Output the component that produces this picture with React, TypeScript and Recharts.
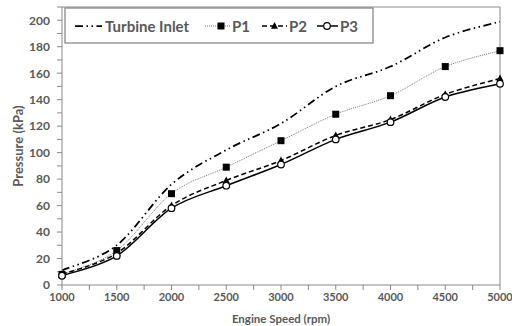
import React from 'react';
import { LineChart, Line, XAxis, YAxis, ReferenceLine, Label } from 'recharts';

const speeds = [1000, 1500, 2000, 2500, 3000, 3500, 4000, 4500, 5000];
const turbineInlet = [11, 30, 76, 102, 122, 150, 165, 187, 199];
const p1 = [8, 26, 69, 89, 109, 129, 143, 165, 177];
const p2 = [8, 24, 60, 79, 94, 113, 125, 144, 156];
const p3 = [7, 22, 58, 75, 91, 110, 123, 142, 152];

const xTicks = [1000, 1250, 1500, 1750, 2000, 2250, 2500, 2750, 3000, 3250, 3500, 3750, 4000, 4250, 4500, 4750, 5000];
const yTicks = [0, 10, 20, 30, 40, 50, 60, 70, 80, 90, 100, 110, 120, 130, 140, 150, 160, 170, 180, 190, 200, 210];

const data = speeds.map((s, i) => ({ speed: s, turbine: turbineInlet[i], p1: p1[i], p2: p2[i], p3: p3[i] }));

const FONT = 'Lato, "Open Sans", sans-serif';
const TXT = '#595959';
const AX = '#8a8a8a';

// Excel-like smoothing (Catmull-Rom style Bezier)
const smoothCurve: any = (context: any) => {
  let pts: number[][] = [];
  return {
    areaStart() {},
    areaEnd() {},
    lineStart() { pts = []; },
    point(x: number, y: number) { pts.push([+x, +y]); },
    lineEnd() {
      if (!pts.length) return;
      context.moveTo(pts[0][0], pts[0][1]);
      for (let i = 0; i < pts.length - 1; i++) {
        const p0 = pts[i - 1] || pts[i];
        const p1 = pts[i];
        const p2 = pts[i + 1];
        const p3 = pts[i + 2] || p2;
        const c1x = p1[0] + (p2[0] - p0[0]) / 6;
        const c1y = p1[1] + (p2[1] - p0[1]) / 6;
        const c2x = p2[0] - (p3[0] - p1[0]) / 6;
        const c2y = p2[1] - (p3[1] - p1[1]) / 6;
        context.bezierCurveTo(c1x, c1y, c2x, c2y, p2[0], p2[1]);
      }
    },
  };
};

const XTick = (props: any) => {
  const { x, y, payload } = props;
  if (payload.value % 500 !== 0) return <g />;
  return (
    <text x={x} y={y} dy="0.78em" textAnchor="middle" fontFamily={FONT} fontSize={11} fontWeight={700} fill={TXT}>
      {payload.value}
    </text>
  );
};

const YTick = (props: any) => {
  const { x, y, payload } = props;
  if (payload.value % 20 !== 0) return <g />;
  return (
    <text x={x} y={y} dy="0.36em" textAnchor="end" fontFamily={FONT} fontSize={12} fontWeight={700} fill={TXT}>
      {payload.value}
    </text>
  );
};

const SquareDot = (props: any) => {
  const { cx, cy, index } = props;
  return <rect key={`sq-${index}`} x={cx - 3.5} y={cy - 3.5} width={7} height={7} fill="#000" />;
};
const TriDot = (props: any) => {
  const { cx, cy, index } = props;
  return <polygon key={`tr-${index}`} points={`${cx},${cy - 4} ${cx + 3.6},${cy + 2.8} ${cx - 3.6},${cy + 2.8}`} fill="#000" />;
};
const CircDot = (props: any) => {
  const { cx, cy, index } = props;
  return <circle key={`ci-${index}`} cx={cx} cy={cy} r={3.3} fill="#fff" stroke="#000" strokeWidth={1.2} />;
};

const TURB_DASH = '8 3.5 1.5 3.5 1.5 3.5';

const LegendBox = () => (
  <svg width={310} height={37} style={{ position: 'absolute', left: 64, top: 7 }}>
    <rect x={1} y={1} width={308} height={35} fill="#fff" stroke="#7f7f7f" strokeWidth={1.2} />
    <line x1={11} y1={19} x2={38} y2={19} stroke="#000" strokeWidth={1.75} strokeDasharray={TURB_DASH} />
    <text x={41} y={25} fontFamily={FONT} fontSize={15} fontWeight={700} fill={TXT}>Turbine Inlet</text>
    <line x1={141} y1={19} x2={166} y2={19} stroke="#777" strokeWidth={1} strokeDasharray="1 1" />
    <rect x={153.5} y={15.5} width={7} height={7} fill="#000" />
    <text x={168} y={25} fontFamily={FONT} fontSize={15} fontWeight={700} fill={TXT}>P1</text>
    <line x1={198} y1={19} x2={223} y2={19} stroke="#000" strokeWidth={1.5} strokeDasharray="5 3" />
    <polygon points="210.5,15 214,21.8 207,21.8" fill="#000" />
    <text x={225} y={25} fontFamily={FONT} fontSize={15} fontWeight={700} fill={TXT}>P2</text>
    <line x1={253} y1={19} x2={274} y2={19} stroke="#000" strokeWidth={1.5} />
    <circle cx={263} cy={19} r={3.3} fill="#fff" stroke="#000" strokeWidth={1.2} />
    <text x={276} y={25} fontFamily={FONT} fontSize={15} fontWeight={700} fill={TXT}>P3</text>
  </svg>
);

export default function App() {
  return (
    <div style={{ position: 'absolute', left: 0, top: 0, width: 512, height: 326, background: '#fff', overflow: 'hidden' }}>
      <LineChart width={512} height={326} data={data} margin={{ top: 7, right: 12, bottom: 0, left: 0 }}>
        <XAxis
          dataKey="speed"
          type="number"
          domain={[1000, 5000]}
          ticks={xTicks}
          interval={0}
          height={41}
          tick={<XTick />}
          tickSize={5}
          tickMargin={2}
          tickLine={{ stroke: AX }}
          axisLine={{ stroke: AX }}
        >
          <Label value="Engine Speed (rpm)" position="insideBottom" offset={3} fontFamily={FONT} fontSize={11.5} fontWeight={700} fill={TXT} />
        </XAxis>
        <YAxis
          type="number"
          domain={[0, 210]}
          ticks={yTicks}
          interval={0}
          width={62}
          tick={<YTick />}
          tickSize={5}
          tickMargin={7}
          tickLine={{ stroke: AX }}
          axisLine={{ stroke: AX }}
        >
          <Label value="Pressure (kPa)" angle={-90} position="center" dx={-13} fontFamily={FONT} fontSize={13} fontWeight={700} fill={TXT} />
        </YAxis>
        <ReferenceLine y={210} stroke={AX} strokeWidth={1} />
        <ReferenceLine x={5000} stroke={AX} strokeWidth={1} />
        <Line type={smoothCurve} dataKey="turbine" stroke="#000" strokeWidth={1.75} strokeDasharray={TURB_DASH} dot={false} activeDot={false} isAnimationActive={false} />
        <Line type={smoothCurve} dataKey="p1" stroke="#777" strokeWidth={1} strokeDasharray="1 1" dot={<SquareDot />} activeDot={false} isAnimationActive={false} />
        <Line type={smoothCurve} dataKey="p2" stroke="#000" strokeWidth={1.5} strokeDasharray="5 3" dot={<TriDot />} activeDot={false} isAnimationActive={false} />
        <Line type={smoothCurve} dataKey="p3" stroke="#000" strokeWidth={1.5} dot={<CircDot />} activeDot={false} isAnimationActive={false} />
      </LineChart>
      <LegendBox />
    </div>
  );
}
